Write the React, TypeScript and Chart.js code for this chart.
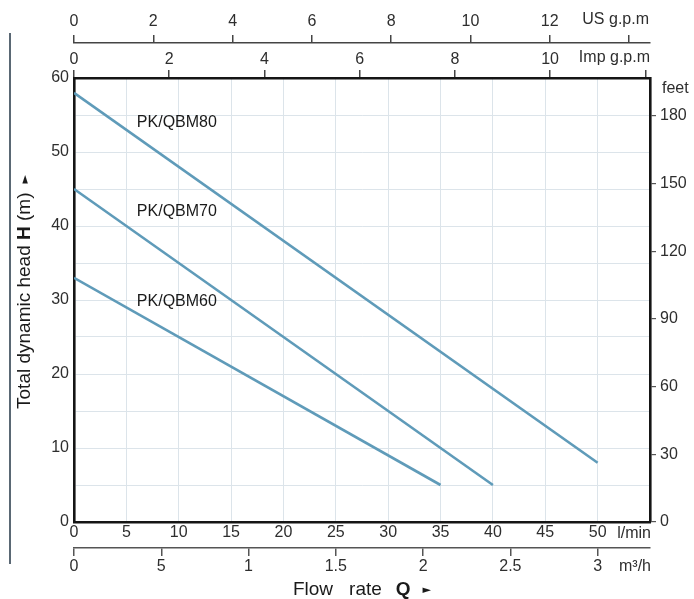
import React, { useEffect, useRef } from "react";
import { Chart, registerables } from "chart.js";

Chart.register(...registerables);

// ---- data ----
const seriesNames = ["PK/QBM80", "PK/QBM70", "PK/QBM60"];
const flowQBM80 = [0, 50]; // l/min
const headQBM80 = [58, 8]; // m
const flowQBM70 = [0, 40];
const headQBM70 = [45, 5];
const flowQBM60 = [0, 35];
const headQBM60 = [33, 5];

const flowMaxLmin = 55;
const headMaxM = 60;
const lminTickValues = [0, 5, 10, 15, 20, 25, 30, 35, 40, 45, 50];
const m3hTickLabels = ["0", "5", "1", "1.5", "2", "2.5", "3"];
const usGpmTickValues = [0, 2, 4, 6, 8, 10, 12];
const impGpmTickValues = [0, 2, 4, 6, 8, 10];
const feetTickValues = [0, 30, 60, 90, 120, 150, 180];
const headTickValues = [0, 10, 20, 30, 40, 50, 60];

// unit conversions
const LMIN_PER_US_GPM = 3.78541;
const LMIN_PER_IMP_GPM = 4.54609;
const M3H_PER_LMIN = 0.06;
const FT_PER_M = 3.28084;

const FONT = '"Liberation Sans", Arial, Helvetica, sans-serif';
const TICK_COLOR = "#2e2e2e";
const GRID = "#dce4ea";
const LINE = "#5f9bb9";
const BORDER = "#151515";

// label anchors (data coords) for the curve names
const labelAnchors = [
  { x: 6, y: 54 },
  { x: 6, y: 41.9 },
  { x: 6, y: 29.8 },
];

function toPoints(xs: number[], ys: number[]) {
  return xs.map((x, i) => ({ x, y: ys[i] }));
}

const overlayPlugin = {
  id: "overlay",
  afterDraw(chart: any) {
    const { ctx, chartArea, scales } = chart;
    ctx.save();
    // curve names
    ctx.font = `16px ${FONT}`;
    ctx.fillStyle = "#1a1a1a";
    ctx.textAlign = "left";
    ctx.textBaseline = "middle";
    seriesNames.forEach((name, i) => {
      const a = labelAnchors[i];
      ctx.fillText(name, scales.x.getPixelForValue(a.x), scales.y.getPixelForValue(a.y));
    });

    // unit labels
    ctx.font = `16px ${FONT}`;
    ctx.fillStyle = TICK_COLOR;
    ctx.textAlign = "right";
    ctx.fillText("US g.p.m", chartArea.right - 1, scales.xUS.bottom - 23);
    ctx.fillText("Imp g.p.m", chartArea.right, scales.xImp.bottom - 20);
    ctx.fillText("l/min", chartArea.right + 1, scales.x.top + 12);
    ctx.fillText("m³/h", chartArea.right + 1, scales.x2.top + 19);
    ctx.textAlign = "left";
    ctx.fillText("feet", chartArea.right + 12, chartArea.top + 11);

    // left decorative rule
    ctx.strokeStyle = "#5a6874";
    ctx.lineWidth = 2;
    ctx.beginPath();
    ctx.moveTo(10, 33);
    ctx.lineTo(10, 564);
    ctx.stroke();

    // bottom title: Flow rate Q ►
    const cx = (chartArea.left + chartArea.right) / 2;
    const ty = 590;
    ctx.fillStyle = "#1a1a1a";
    ctx.textBaseline = "middle";
    const normal = `19px ${FONT}`;
    const bold = `bold 19px ${FONT}`;
    const arrowFont = `11px "DejaVu Sans", ${FONT}`;
    const parts: [string, string, number][] = [
      ["Flow", normal, 16],
      ["rate", normal, 14],
      ["Q", bold, 12],
      ["►", arrowFont, 0],
    ];
    let total = 0;
    parts.forEach(([t, f, g]) => {
      ctx.font = f;
      total += ctx.measureText(t).width + g;
    });
    let px = cx - total / 2;
    parts.forEach(([t, f, g]) => {
      ctx.font = f;
      ctx.fillText(t, px, ty);
      px += ctx.measureText(t).width + g;
    });

    // left title: Total dynamic head H (m) ►
    ctx.save();
    ctx.translate(25, 292);
    ctx.rotate(-Math.PI / 2);
    const lparts: [string, string, number][] = [
      ["Total dynamic head ", normal, 0],
      ["H", bold, 0],
      [" (m)", normal, 9],
      ["►", arrowFont, 0],
    ];
    let ltotal = 0;
    lparts.forEach(([t, f, g]) => {
      ctx.font = f;
      ltotal += ctx.measureText(t).width + g;
    });
    let lx = -ltotal / 2;
    lparts.forEach(([t, f, g]) => {
      ctx.font = f;
      ctx.fillText(t, lx, 0);
      lx += ctx.measureText(t).width + g;
    });
    ctx.restore();

    ctx.restore();
  },
};

export default function App() {
  const canvasRef = useRef<HTMLCanvasElement | null>(null);

  useEffect(() => {
    const canvas = canvasRef.current;
    if (!canvas) return;
    const tickFont = { family: FONT, size: 16 };

    const lineDs = (xs: number[], ys: number[], label: string) => ({
      label,
      data: toPoints(xs, ys),
      borderColor: LINE,
      borderWidth: 2.6,
      pointRadius: 0,
      fill: false,
      tension: 0,
      xAxisID: "x",
      yAxisID: "y",
    });

    const chart = new Chart(canvas, {
      type: "line",
      data: {
        datasets: [
          lineDs(flowQBM80, headQBM80, seriesNames[0]),
          lineDs(flowQBM70, headQBM70, seriesNames[1]),
          lineDs(flowQBM60, headQBM60, seriesNames[2]),
        ],
      },
      options: {
        responsive: false,
        animation: false,
        events: [],
        layout: { padding: 0 },
        plugins: {
          legend: { display: false },
          tooltip: { enabled: false },
          title: { display: false },
        },
        scales: {
          x: {
            type: "linear",
            position: "bottom",
            weight: 0,
            min: 0,
            max: flowMaxLmin,
            ticks: {
              stepSize: 5,
              maxTicksLimit: 100,
              autoSkip: false,
              includeBounds: false,
              maxRotation: 0,
              padding: 1,
              color: TICK_COLOR,
              font: tickFont,
              callback: (v: any) => (lminTickValues.includes(Number(v)) ? String(v) : ""),
            },
            grid: {
              drawTicks: false,
              lineWidth: 1,
              color: (c: any) =>
                c.tick && (c.tick.value === 0 || c.tick.value === flowMaxLmin) ? "rgba(0,0,0,0)" : GRID,
            },
            border: { color: BORDER, width: 2.6 },
            afterFit: (s: any) => {
              s.height = 26;
              s.paddingLeft = 0;
              s.paddingRight = 0;
            },
          },
          x2: {
            type: "linear",
            position: "bottom",
            weight: 1,
            min: 0,
            max: flowMaxLmin * M3H_PER_LMIN,
            ticks: {
              stepSize: 0.5,
              maxTicksLimit: 100,
              autoSkip: false,
              includeBounds: false,
              maxRotation: 0,
              padding: 1,
              color: TICK_COLOR,
              font: tickFont,
              callback: (v: any) => {
                const i = Math.round(Number(v) / 0.5);
                return m3hTickLabels[i] ?? "";
              },
            },
            grid: {
              drawOnChartArea: false,
              drawTicks: true,
              tickLength: 8,
              color: "#555555",
              lineWidth: 1.5,
            },
            border: { color: "#555555", width: 1.5 },
            afterFit: (s: any) => {
              s.height = 51;
              s.paddingLeft = 0;
              s.paddingRight = 0;
            },
          },
          xImp: {
            type: "linear",
            position: "top",
            weight: 0,
            min: 0,
            max: flowMaxLmin / LMIN_PER_IMP_GPM,
            ticks: {
              stepSize: 2,
              maxTicksLimit: 100,
              autoSkip: false,
              includeBounds: false,
              maxRotation: 0,
              padding: 1,
              color: TICK_COLOR,
              font: tickFont,
              callback: (v: any) => (impGpmTickValues.includes(Number(v)) ? String(v) : ""),
            },
            grid: {
              drawOnChartArea: false,
              drawTicks: true,
              tickLength: 8,
              color: "#444444",
              lineWidth: 1.5,
            },
            border: { color: BORDER, width: 2.6 },
            afterFit: (s: any) => {
              s.height = 35;
              s.paddingLeft = 0;
              s.paddingRight = 0;
            },
          },
          xUS: {
            type: "linear",
            position: "top",
            weight: 1,
            min: 0,
            max: flowMaxLmin / LMIN_PER_US_GPM,
            ticks: {
              stepSize: 2,
              maxTicksLimit: 100,
              autoSkip: false,
              includeBounds: false,
              maxRotation: 0,
              padding: 4,
              color: TICK_COLOR,
              font: tickFont,
              callback: (v: any) => (usGpmTickValues.includes(Number(v)) ? String(v) : ""),
            },
            grid: {
              drawOnChartArea: false,
              drawTicks: true,
              tickLength: 8,
              color: "#444444",
              lineWidth: 1.5,
            },
            border: { color: "#444444", width: 1.5 },
            afterFit: (s: any) => {
              s.height = 43;
              s.paddingLeft = 0;
              s.paddingRight = 0;
            },
          },
          y: {
            type: "linear",
            position: "left",
            min: 0,
            max: headMaxM,
            ticks: {
              stepSize: 5,
              maxTicksLimit: 100,
              autoSkip: false,
              includeBounds: false,
              padding: 5,
              color: TICK_COLOR,
              font: tickFont,
              callback: (v: any) => (headTickValues.includes(Number(v)) ? String(v) : ""),
            },
            grid: {
              drawTicks: false,
              lineWidth: 1,
              color: (c: any) =>
                c.tick && (c.tick.value === 0 || c.tick.value === headMaxM) ? "rgba(0,0,0,0)" : GRID,
            },
            border: { color: BORDER, width: 2.6 },
            afterFit: (s: any) => {
              s.width = 74;
              s.paddingTop = 0;
              s.paddingBottom = 0;
            },
          },
          yFeet: {
            type: "linear",
            position: "right",
            min: 0,
            max: headMaxM * FT_PER_M,
            ticks: {
              stepSize: 30,
              maxTicksLimit: 100,
              autoSkip: false,
              includeBounds: false,
              padding: 4,
              color: TICK_COLOR,
              font: tickFont,
              callback: (v: any) => (feetTickValues.includes(Number(v)) ? String(v) : ""),
            },
            grid: {
              drawOnChartArea: false,
              drawTicks: true,
              tickLength: 6,
              color: "#555555",
              lineWidth: 1.2,
            },
            border: { color: BORDER, width: 2.6 },
            afterFit: (s: any) => {
              s.width = 44;
              s.paddingTop = 0;
              s.paddingBottom = 0;
            },
          },
        },
      } as any,
      plugins: [overlayPlugin],
    });

    return () => chart.destroy();
  }, []);

  return (
    <div style={{ position: "absolute", left: 0, top: 0, width: 694, height: 599, background: "#ffffff" }}>
      <canvas ref={canvasRef} width={694} height={599} style={{ width: 694, height: 599, display: "block" }} />
    </div>
  );
}
